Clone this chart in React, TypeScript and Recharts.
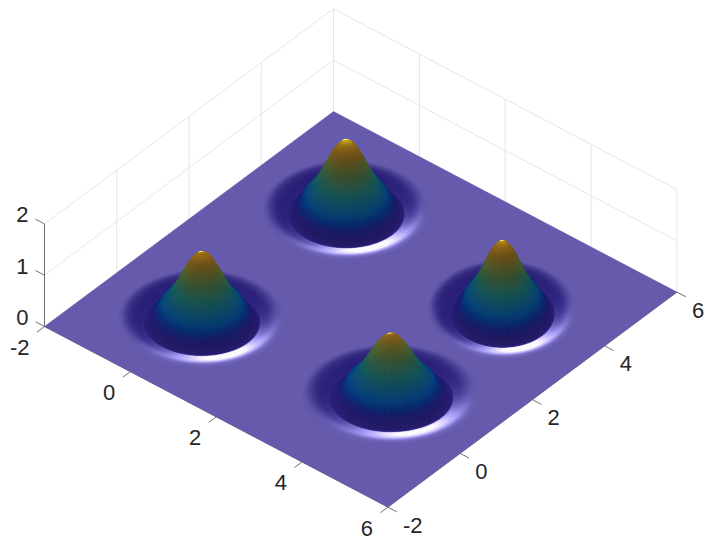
import React from 'react';
import { ScatterChart, Scatter, XAxis, YAxis, ReferenceLine } from 'recharts';

const WIDTH = 705;
const HEIGHT = 537;

// axis ticks
const xTicks = [-2, 0, 2, 4, 6];
const yTicks = [-2, 0, 2, 4, 6];
const zTicks = [0, 1, 2];

// peaks: centre on the floor, height and footprint
// footprint is measured along the screen's horizontal and vertical directions
const peakX = [-0.02, 0.0, 3.94, 3.97];
const peakY = [4.0, -0.02, 3.62, 0.5];
const peakHeight = [1.35, 1.28, 1.32, 1.16];
const peakAcross = [1.27, 1.27, 1.14, 1.35];
const peakAlong = [1.2, 1.18, 1.2, 1.21];

// radial profile of a peak, moat edge = 1, top = 1
const ringRadius = [
  0, 0.02, 0.04, 0.06, 0.08, 0.1, 0.12, 0.14, 0.16, 0.18, 0.2, 0.22, 0.24, 0.26, 0.28, 0.3, 0.32, 0.34, 0.36, 0.38,
  0.4, 0.42, 0.44, 0.46, 0.48, 0.5, 0.52, 0.54, 0.56, 0.58, 0.6, 0.62, 0.64, 0.66, 0.68, 0.7, 0.72, 0.74, 0.76, 0.78,
  0.8, 0.82, 0.84, 0.86, 0.88, 0.9, 0.92, 0.94, 0.96, 0.98, 1.0, 1.02, 1.04, 1.06, 1.08, 1.1, 1.12, 1.14, 1.16,
];
const ringHeight = [
  1, 0.998, 0.992, 0.982, 0.968, 0.95, 0.93, 0.906, 0.878, 0.848, 0.815, 0.78, 0.743, 0.705, 0.666, 0.627, 0.588,
  0.55, 0.514, 0.48, 0.447, 0.416, 0.387, 0.36, 0.334, 0.31, 0.286, 0.263, 0.241, 0.22, 0.19, 0.155, 0.125, 0.098,
  0.07, 0.045, 0.02, -0.006, -0.03, -0.05, -0.0602, -0.0578, -0.053, -0.0476, -0.0422, -0.0368, -0.0316, -0.0266,
  -0.0218, -0.0174, -0.0134, -0.0098, -0.0068, -0.0044, -0.0026, -0.0014, -0.0006, -0.0002, 0,
];

// how much of the glint each part of the profile takes
const glossRadius = [0, 0.1, 0.5, 0.6, 0.81, 0.835];
const glossLevel = [0.4, 1, 1, 0, 0, 1];

// colour by height, sampled from the surface
const colorHeights = [-0.03, -0.002, 0, 0.004, 0.06, 0.13, 0.22, 0.3, 0.6, 0.9, 1.15, 1.3, 1.38];
const colorRed = [42, 50, 59, 40, 38, 26, 5, 5, 28, 95, 150, 175, 225];
const colorGreen = [32, 40, 48, 32, 32, 38, 60, 76, 114, 120, 108, 130, 205];
const colorBlue = [124, 126, 130, 124, 128, 135, 148, 142, 108, 60, 35, 30, 45];

const SECTORS = 120;
const GRID = '#e6e6e6';
const AXIS = '#4d4d4d';

// floor corner x=-2,y=-2 and screen steps per data unit
const project = (x: number, y: number, z: number) => ({
  px: 44.5 + (x + 2) * 42.925 + (y + 2) * 36.125,
  py: 326.5 + (x + 2) * 22.575 - (y + 2) * 26.875 - z * 51.3,
});

const depthOf = (x: number, y: number, z: number) => x * 36.1 - y * 42.9 + z * 38.4;

const lookup = (v: number, at: number[], out: number[]) => {
  if (v <= at[0]) return out[0];
  for (let i = 1; i < at.length; i++) {
    if (v <= at[i]) {
      const t = (v - at[i - 1]) / (at[i] - at[i - 1]);
      return out[i - 1] + t * (out[i] - out[i - 1]);
    }
  }
  return out[out.length - 1];
};

// floor directions that show as screen-right and screen-down
const RIGHT = [0.765, 0.644];
const NEAR = [0.644, -0.765];

// light tilted to the far side, which is why the near wall of each moat glints
const TILT = 0.3;
const lightX = -TILT * (NEAR[0] * 0.94 + RIGHT[0] * 0.34);
const lightY = -TILT * (NEAR[1] * 0.94 + RIGHT[1] * 0.34);
const lightLen = Math.hypot(lightX, lightY, 1);

const shade = (z: number, zx: number, zy: number, gloss: number) => {
  const len = Math.hypot(zx, zy, 1);
  const dot = Math.max(0, (-zx * lightX - zy * lightY + 1) / (len * lightLen));
  const spec = Math.pow(dot, 42) * gloss;
  const diffuse = 0.62 + 0.38 * dot;
  const channel = (ramp: number[]) =>
    Math.min(255, Math.round(lookup(z, colorHeights, ramp) * diffuse + spec * 260));
  return `rgb(${channel(colorRed)},${channel(colorGreen)},${channel(colorBlue)})`;
};

type Quad = { px: number; py: number; offsets: string; fill: string; depth: number };

const quadFrom = (corners: { px: number; py: number }[], fill: string, depth: number): Quad => {
  const px = corners.reduce((s, c) => s + c.px, 0) / corners.length;
  const py = corners.reduce((s, c) => s + c.py, 0) / corners.length;
  const offsets = corners.map((c) => [c.px - px, c.py - py]);
  return { px, py, offsets: JSON.stringify(offsets), fill, depth };
};

const ringSlope = (i: number) => {
  const a = Math.max(0, i - 1);
  const b = Math.min(ringRadius.length - 2, i + 1);
  let sum = 0;
  for (let k = a; k <= b; k++) sum += (ringHeight[k + 1] - ringHeight[k]) / (ringRadius[k + 1] - ringRadius[k]);
  return sum / (b - a + 1);
};

const buildPeak = (index: number): Quad[] => {
  const h = peakHeight[index];
  const ra = peakAcross[index];
  const rn = peakAlong[index];
  const quads: Quad[] = [];
  const ground = (rho: number, t: number) => {
    const a = rho * ra * Math.cos(t);
    const n = rho * rn * Math.sin(t);
    return [peakX[index] + a * RIGHT[0] + n * NEAR[0], peakY[index] + a * RIGHT[1] + n * NEAR[1]];
  };
  for (let i = 0; i < ringRadius.length - 1; i++) {
    const slope = ringSlope(i) * h;
    const rho = (ringRadius[i] + ringRadius[i + 1]) / 2;
    const gloss = lookup(rho, glossRadius, glossLevel);
    for (let j = 0; j < SECTORS; j++) {
      const corners = [
        [i, j],
        [i + 1, j],
        [i + 1, j + 1],
        [i, j + 1],
      ].map(([ri, si]) => {
        const g = ground(ringRadius[ri], (si / SECTORS) * Math.PI * 2);
        return project(g[0], g[1], ringHeight[ri] * h);
      });
      const t = ((j + 0.5) / SECTORS) * Math.PI * 2;
      const da = (slope * Math.cos(t)) / ra;
      const dn = (slope * Math.sin(t)) / rn;
      const zx = da * RIGHT[0] + dn * NEAR[0];
      const zy = da * RIGHT[1] + dn * NEAR[1];
      const mid = ((ringHeight[i] + ringHeight[i + 1]) / 2) * h;
      const g = ground(rho, t);
      quads.push(quadFrom(corners, shade(mid, zx, zy, gloss), depthOf(g[0], g[1], mid)));
    }
  }
  return quads.sort((p, q) => p.depth - q.depth);
};

const floor = [
  quadFrom(
    [project(-2, -2, 0), project(6, -2, 0), project(6, 6, 0), project(-2, 6, 0)],
    shade(0, 0, 0, 1),
    0,
  ),
];

const peakOrder = [0, 1, 2, 3];
const peaks = peakOrder.map(buildPeak);

const QuadShape = (props: any) => {
  const { cx, cy, payload } = props;
  const offsets: number[][] = JSON.parse(payload.offsets);
  const points = offsets.map((o) => `${cx + o[0]},${cy + o[1]}`).join(' ');
  return <polygon points={points} fill={payload.fill} stroke={payload.fill} strokeWidth={0.5} />;
};

const TickText = (props: any) => {
  const { cx, cy, payload } = props;
  return (
    <text
      x={cx + payload.dx}
      y={cy + payload.dy}
      textAnchor={payload.anchor}
      dominantBaseline="central"
      fontFamily="'Liberation Sans', Arial, sans-serif"
      fontSize={22}
      fill="#262626"
    >
      {payload.text}
    </text>
  );
};

const xLabels = xTicks.map((t) => ({ ...project(t, -2, 0), dx: -15, dy: 21, anchor: 'end', text: String(t) }));
const yLabels = yTicks.map((t) => ({ ...project(6, t, 0), dx: 15, dy: 18, anchor: 'start', text: String(t) }));
const zLabels = zTicks.map((t) => ({ ...project(-2, -2, t), dx: -16, dy: -9, anchor: 'end', text: String(t) }));

const seg = (a: { px: number; py: number }, b: { px: number; py: number }) => [
  { x: a.px, y: a.py },
  { x: b.px, y: b.py },
];

const gridSegments = [
  ...yTicks.map((t) => seg(project(-2, t, 0), project(-2, t, 2))),
  ...xTicks.map((t) => seg(project(t, 6, 0), project(t, 6, 2))),
  ...zTicks.slice(1).map((t) => seg(project(-2, -2, t), project(-2, 6, t))),
  ...zTicks.slice(1).map((t) => seg(project(-2, 6, t), project(6, 6, t))),
];

const TICK = 0.21;
const axisSegments = [
  seg(project(-2, -2, 0), project(-2, -2, 2)),
  seg(project(-2, -2, 0), project(6, -2, 0)),
  seg(project(6, -2, 0), project(6, 6, 0)),
  ...zTicks.map((t) => seg(project(-2, -2, t), project(-2 - TICK, -2, t))),
  ...xTicks.map((t) => seg(project(t, -2, 0), project(t, -2 - TICK, 0))),
  ...yTicks.map((t) => seg(project(6, t, 0), project(6 + TICK, t, 0))),
];

export default function App() {
  return (
    <div style={{ position: 'absolute', left: 0, top: 0, background: '#fff' }}>
      <ScatterChart width={WIDTH} height={HEIGHT} margin={{ top: 0, right: 0, bottom: 0, left: 0 }}>
        <XAxis type="number" dataKey="px" domain={[0, WIDTH]} hide allowDataOverflow />
        <YAxis type="number" dataKey="py" domain={[0, HEIGHT]} reversed hide allowDataOverflow />
        {gridSegments.map((s, i) => (
          <ReferenceLine key={`grid-${i}`} segment={s} stroke={GRID} strokeWidth={1} ifOverflow="visible" />
        ))}
        <Scatter data={floor} shape={QuadShape} isAnimationActive={false} />
        {peaks.map((quads, i) => (
          <Scatter key={`peak-${i}`} data={quads} shape={QuadShape} isAnimationActive={false} />
        ))}
        {axisSegments.map((s, i) => (
          <ReferenceLine key={`axis-${i}`} segment={s} stroke={AXIS} strokeWidth={0.8} ifOverflow="visible" />
        ))}
        <Scatter data={[...xLabels, ...yLabels, ...zLabels]} shape={TickText} isAnimationActive={false} />
      </ScatterChart>
    </div>
  );
}
